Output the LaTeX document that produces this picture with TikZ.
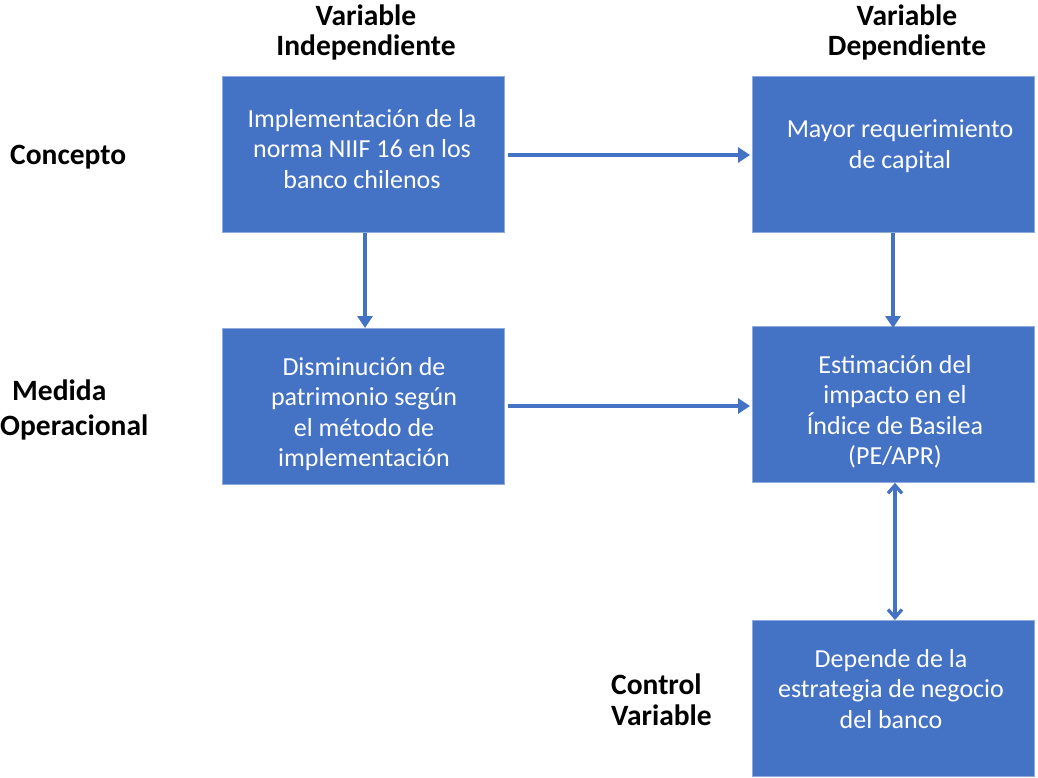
\documentclass[tikz,border=0pt]{standalone}
\usepackage{fontspec}
\setmainfont{Carlito}
\usetikzlibrary{arrows.meta}
\definecolor{boxblue}{HTML}{4472C4}
\begin{document}
\begin{tikzpicture}[x=1pt,y=-1pt,
  box/.style={fill=boxblue,draw=boxblue!60,line width=0.8pt,minimum width=282pt,minimum height=156pt,
    inner sep=0pt,anchor=north west},
  btext/.style={text=white,align=center,font=\fontsize{26}{30.5}\selectfont,inner sep=0pt},
  lbl/.style={font=\fontsize{29.5}{30}\selectfont\bfseries,align=center,inner sep=0pt},
  conn/.style={draw=boxblue,line width=3.6pt,-{Triangle[length=12pt,width=15pt]}},
  dconn/.style={draw=boxblue,line width=3.3pt,{Straight Barb[length=8pt,width=14pt]}-{Straight Barb[length=8pt,width=14pt]}}]
\useasboundingbox (0,0) rectangle (1038,778);
\node[box] (a) at (222,76) {};
\node[box] (b) at (752,76) {};
\node[box] (c) at (222,328) {};
\node[box] (d) at (752,326) {};
\node[box] (e) at (752,620) {};
\node[btext] (ta) at (362,149) {Implementación de la\\norma NIIF 16 en los\\banco chilenos};
\node[btext] (tb) at (900,146) {Mayor requerimiento\\de capital};
\node[btext] (tc) at (364,414) {Disminución de\\patrimonio según\\el método de\\implementación};
\node[btext] (td) at (895,412) {Estimación del\\impacto en el\\Índice de Basilea\\(PE/APR)};
\node[btext] (te) at (891,689) {Depende de la\\estrategia de negocio\\del banco};
\node[lbl] (h1) at (366,32) {Variable\\Independiente};
\node[lbl] (h2) at (907,32) {Variable\\Dependiente};
\node[lbl,anchor=west] (l1) at (10,157) {Concepto};
\node[lbl,anchor=west,align=left,font=\fontsize{29.5}{35}\selectfont\bfseries] (l2) at (0,410) {\hspace*{12pt}Medida\\Operacional};
\node[lbl,anchor=west,align=left,font=\fontsize{29.5}{31}\selectfont\bfseries] (l3) at (611,700) {Control\\Variable};
\coordinate (ab1) at (508,155);
\coordinate (ab2) at (750,155);
\draw[conn] (ab1) -- (ab2);
\draw[conn] (a.south -| 365,0) -- (c.north -| 365,0);
\draw[conn] (b.south -| 893,0) -- ([yshift=-2pt]d.north -| 893,0);
\coordinate (cd1) at (508,406);
\coordinate (cd2) at (750,406);
\draw[conn] (cd1) -- (cd2);
\draw[dconn] (d.south -| 895,0) -- (e.north -| 895,0);
\end{tikzpicture}
\end{document}
